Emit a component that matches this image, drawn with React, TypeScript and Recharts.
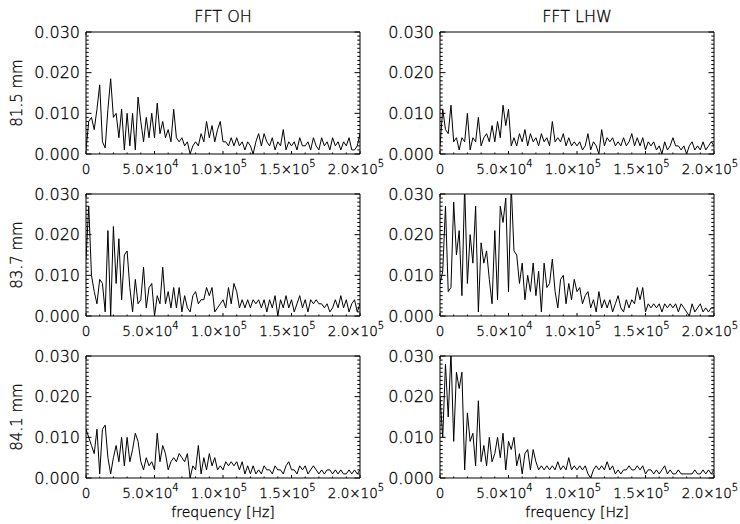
import React from "react";
import { LineChart, Line, XAxis, YAxis } from "recharts";

// frequency grid of the spectra (Hz)
const FREQ_STEP = 2000;
const N_POINTS = 101;

const X_MAJOR = [0, 50000, 100000, 150000, 200000];
const X_MINOR_STEP = 10000;
const Y_MAJOR = [0, 0.01, 0.02, 0.03];
const Y_MINOR_STEP = 0.001;

const COLUMN_TITLES = ["FFT OH", "FFT LHW"];
const ROW_LABELS = ["81.5 mm", "83.7 mm", "84.1 mm"];
const X_TITLE = "frequency [Hz]";

// FFT amplitudes
const OH_815 = [
  0.001, 0.008, 0.009, 0.006, 0.011, 0.017, 0.003, 0.0015, 0.011, 0.0185,
  0.009, 0.010, 0.004, 0.011, 0.001, 0.010, 0.002, 0.010, 0.001, 0.014,
  0.008, 0.003, 0.009, 0.004, 0.010, 0.004, 0.0125, 0.005, 0.008, 0.004,
  0.006, 0.003, 0.011, 0.004, 0.003, 0.004, 0.002, 0.003, 0.000, 0.002,
  0.003, 0.002, 0.005, 0.003, 0.008, 0.004, 0.007, 0.003, 0.006, 0.008,
  0.003, 0.003, 0.002, 0.004, 0.002, 0.004, 0.002, 0.003, 0.001, 0.003,
  0.002, 0.000, 0.003, 0.005, 0.002, 0.005, 0.003, 0.002, 0.004, 0.001,
  0.003, 0.002, 0.006, 0.001, 0.003, 0.002, 0.003, 0.001, 0.004, 0.002,
  0.002, 0.003, 0.001, 0.004, 0.002, 0.001, 0.004, 0.002, 0.003, 0.001,
  0.004, 0.002, 0.003, 0.001, 0.003, 0.002, 0.004, 0.001, 0.001, 0.002,
  0.005,
];

const LHW_815 = [
  0.002, 0.011, 0.006, 0.005, 0.012, 0.003, 0.004, 0.001, 0.004, 0.003,
  0.010, 0.001, 0.004, 0.003, 0.009, 0.002, 0.004, 0.005, 0.003, 0.007,
  0.003, 0.008, 0.004, 0.012, 0.007, 0.011, 0.002, 0.004, 0.002, 0.005,
  0.003, 0.006, 0.002, 0.005, 0.003, 0.004, 0.002, 0.005, 0.003, 0.004,
  0.002, 0.008, 0.003, 0.004, 0.003, 0.005, 0.002, 0.004, 0.002, 0.003,
  0.002, 0.003, 0.001, 0.002, 0.005, 0.001, 0.003, 0.002, 0.000, 0.006,
  0.002, 0.004, 0.003, 0.004, 0.002, 0.003, 0.002, 0.004, 0.002, 0.003,
  0.005, 0.002, 0.004, 0.002, 0.004, 0.001, 0.003, 0.002, 0.003, 0.001,
  0.002, 0.000, 0.003, 0.001, 0.002, 0.004, 0.002, 0.002, 0.001, 0.002,
  0.000, 0.002, 0.003, 0.001, 0.002, 0.001, 0.003, 0.001, 0.002, 0.003,
  0.002,
];

const OH_837 = [
  0.014, 0.027, 0.010, 0.006, 0.003, 0.009, 0.008, 0.001, 0.021, 0.000,
  0.022, 0.008, 0.019, 0.004, 0.015, 0.016, 0.007, 0.001, 0.009, 0.003,
  0.004, 0.012, 0.002, 0.007, 0.008, 0.000, 0.005, 0.003, 0.012, 0.003,
  0.006, 0.002, 0.007, 0.002, 0.007, 0.001, 0.005, 0.002, 0.001, 0.005,
  0.006, 0.003, 0.004, 0.004, 0.007, 0.005, 0.007, 0.001, 0.002, 0.003,
  0.004, 0.002, 0.007, 0.003, 0.008, 0.006, 0.002, 0.004, 0.002, 0.004,
  0.002, 0.004, 0.003, 0.004, 0.002, 0.004, 0.001, 0.004, 0.002, 0.005,
  0.000, 0.004, 0.002, 0.005, 0.002, 0.004, 0.001, 0.003, 0.005, 0.002,
  0.004, 0.001, 0.004, 0.003, 0.004, 0.003, 0.003, 0.002, 0.003, 0.001,
  0.002, 0.004, 0.002, 0.005, 0.002, 0.004, 0.001, 0.003, 0.004, 0.001,
  0.003,
];

const LHW_837 = [
  0.008, 0.011, 0.027, 0.006, 0.007, 0.028, 0.015, 0.021, 0.005, 0.032,
  0.008, 0.020, 0.013, 0.027, 0.001, 0.018, 0.013, 0.016, 0.009, 0.003,
  0.021, 0.004, 0.027, 0.023, 0.029, 0.006, 0.032, 0.016, 0.015, 0.008,
  0.013, 0.004, 0.010, 0.006, 0.013, 0.005, 0.011, 0.001, 0.013, 0.007,
  0.008, 0.014, 0.006, 0.002, 0.009, 0.010, 0.003, 0.008, 0.004, 0.009,
  0.006, 0.007, 0.003, 0.005, 0.006, 0.002, 0.004, 0.001, 0.006, 0.002,
  0.004, 0.002, 0.004, 0.001, 0.003, 0.005, 0.002, 0.001, 0.004, 0.002,
  0.004, 0.003, 0.007, 0.004, 0.007, 0.001, 0.003, 0.002, 0.003, 0.002,
  0.003, 0.001, 0.003, 0.002, 0.003, 0.002, 0.003, 0.001, 0.003, 0.002,
  0.001, 0.000, 0.003, 0.001, 0.002, 0.003, 0.001, 0.002, 0.001, 0.002,
  0.002,
];

const OH_841 = [
  0.012, 0.010, 0.008, 0.006, 0.012, 0.001, 0.012, 0.013, 0.005, 0.001,
  0.005, 0.008, 0.004, 0.010, 0.003, 0.010, 0.004, 0.007, 0.011, 0.009,
  0.004, 0.002, 0.005, 0.003, 0.004, 0.002, 0.011, 0.004, 0.008, 0.006,
  0.002, 0.004, 0.005, 0.004, 0.006, 0.005, 0.004, 0.006, 0.000, 0.003,
  0.002, 0.008, 0.001, 0.005, 0.002, 0.006, 0.003, 0.005, 0.002, 0.003,
  0.002, 0.004, 0.003, 0.004, 0.003, 0.004, 0.002, 0.004, 0.001, 0.003,
  0.001, 0.003, 0.001, 0.002, 0.001, 0.003, 0.002, 0.002, 0.001, 0.003,
  0.002, 0.002, 0.001, 0.003, 0.004, 0.002, 0.002, 0.001, 0.003, 0.002,
  0.003, 0.001, 0.002, 0.003, 0.002, 0.001, 0.002, 0.001, 0.002, 0.002,
  0.001, 0.002, 0.001, 0.002, 0.001, 0.001, 0.002, 0.001, 0.002, 0.001,
  0.002,
];

const LHW_841 = [
  0.020, 0.010, 0.028, 0.015, 0.031, 0.009, 0.026, 0.022, 0.026, 0.002,
  0.016, 0.009, 0.011, 0.003, 0.019, 0.004, 0.008, 0.003, 0.010, 0.004,
  0.006, 0.010, 0.005, 0.011, 0.002, 0.009, 0.007, 0.010, 0.003, 0.006,
  0.001, 0.006, 0.007, 0.002, 0.007, 0.004, 0.002, 0.003, 0.002, 0.003,
  0.002, 0.003, 0.002, 0.004, 0.002, 0.003, 0.002, 0.005, 0.002, 0.003,
  0.002, 0.003, 0.002, 0.003, 0.001, 0.000, 0.002, 0.003, 0.002, 0.003,
  0.002, 0.004, 0.002, 0.003, 0.001, 0.002, 0.001, 0.002, 0.002, 0.003,
  0.002, 0.002, 0.003, 0.002, 0.003, 0.001, 0.002, 0.002, 0.001, 0.002,
  0.001, 0.002, 0.003, 0.001, 0.002, 0.001, 0.001, 0.002, 0.001, 0.001,
  0.001, 0.001, 0.001, 0.002, 0.001, 0.001, 0.002, 0.001, 0.002, 0.001,
  0.002,
];

const SERIES = [
  [OH_815, LHW_815],
  [OH_837, LHW_837],
  [OH_841, LHW_841],
];

const FREQS = Array.from({ length: N_POINTS }, (_, i) => i * FREQ_STEP);
const X_TICKS = Array.from({ length: 21 }, (_, i) => i * X_MINOR_STEP);
const Y_TICKS = Array.from({ length: 31 }, (_, i) => +(i * Y_MINOR_STEP).toFixed(3));

// layout of the plot boxes
const COL_X = [86, 440];
const ROW_Y = [32, 194, 356];
const BOX_W = 274;
const BOX_H = 122;
// outer space around each box; axes take 1px of it on every side
const M = { top: 10, right: 40, bottom: 30, left: 86 };
const AX = 1;

const FONT = "DejaVu Sans";
const FW = 200;
const FS = 15;
const TEXT = "#000";
// thin glyphs get a hairline outline so they read like the plotted vector font
const TXT_STYLE = { stroke: "#000", strokeWidth: 0.3 };

const isXMajor = (v: number) => X_MAJOR.includes(v);
const isYMajor = (v: number) => Y_MAJOR.some((m) => Math.abs(m - v) < 1e-9);

const sciLabel = (v: number) => {
  if (v === 0) return <tspan>0</tspan>;
  const exp = Math.floor(Math.log10(v) + 1e-9);
  const mant = v / Math.pow(10, exp);
  return (
    <>
      <tspan>{mant.toFixed(1)}×10</tspan>
      <tspan dy={-7} fontSize={10}>{exp}</tspan>
    </>
  );
};

const BottomTick = (props: any) => {
  const { x, y, payload } = props;
  const major = isXMajor(payload.value);
  return (
    <g>
      <line x1={x} x2={x} y1={y} y2={y - (major ? 3 : 1.5)} stroke="#000" />
      {major && (
        <text
          x={payload.value === 0 ? x : x - 4}
          y={y + 20}
          textAnchor="middle"
          fontFamily={FONT}
          fontWeight={FW}
          fontSize={13.5}
          fill={TEXT}
          style={TXT_STYLE}
        >
          {sciLabel(payload.value)}
        </text>
      )}
    </g>
  );
};

const TopTick = (props: any) => {
  const { x, y, payload } = props;
  const major = isXMajor(payload.value);
  return <line x1={x} x2={x} y1={y} y2={y + (major ? 3 : 1.5)} stroke="#000" />;
};

const LeftTick = (props: any) => {
  const { x, y, payload } = props;
  const major = isYMajor(payload.value);
  return (
    <g>
      <line x1={x} x2={x + (major ? 5.5 : 2.7)} y1={y} y2={y} stroke="#000" />
      {major && (
        <text
          x={x - 6}
          y={y + 5.5}
          textAnchor="end"
          fontFamily={FONT}
          fontWeight={FW}
          fontSize={16}
          fill={TEXT}
          style={TXT_STYLE}
        >
          {payload.value.toFixed(3)}
        </text>
      )}
    </g>
  );
};

const RightTick = (props: any) => {
  const { x, y, payload } = props;
  const major = isYMajor(payload.value);
  return <line x1={x} x2={x - (major ? 5.5 : 2.7)} y1={y} y2={y} stroke="#000" />;
};

const Panel = ({ values, left, top }: { values: number[]; left: number; top: number }) => {
  const data = FREQS.map((f, i) => ({ f, amp: values[i] }));
  const margin = { top: M.top - AX, right: M.right - AX, bottom: M.bottom - AX, left: M.left - AX };
  return (
    <div style={{ position: "absolute", left: left - M.left, top: top - M.top }}>
      <LineChart width={BOX_W + M.left + M.right} height={BOX_H + M.top + M.bottom} data={data} margin={margin}>
        <XAxis
          xAxisId="b"
          dataKey="f"
          type="number"
          domain={[0, 200000]}
          allowDataOverflow
          ticks={X_TICKS}
          interval={0}
          height={AX}
          tickSize={0}
          tickMargin={0}
          tickLine={false}
          axisLine={{ stroke: "#000" }}
          tick={<BottomTick />}
        />
        <XAxis
          xAxisId="t"
          orientation="top"
          type="number"
          domain={[0, 200000]}
          allowDataOverflow
          ticks={X_TICKS}
          interval={0}
          height={AX}
          tickSize={0}
          tickMargin={0}
          tickLine={false}
          axisLine={{ stroke: "#000" }}
          tick={<TopTick />}
        />
        <YAxis
          yAxisId="l"
          type="number"
          domain={[0, 0.03]}
          allowDataOverflow
          ticks={Y_TICKS}
          interval={0}
          width={AX}
          tickSize={0}
          tickMargin={0}
          tickLine={false}
          axisLine={{ stroke: "#000" }}
          tick={<LeftTick />}
        />
        <YAxis
          yAxisId="r"
          orientation="right"
          type="number"
          domain={[0, 0.03]}
          allowDataOverflow
          ticks={Y_TICKS}
          interval={0}
          width={AX}
          tickSize={0}
          tickMargin={0}
          tickLine={false}
          axisLine={{ stroke: "#000" }}
          tick={<RightTick />}
        />
        <Line
          xAxisId="b"
          yAxisId="l"
          type="linear"
          dataKey="amp"
          stroke="#000"
          strokeWidth={1}
          dot={false}
          isAnimationActive={false}
        />
      </LineChart>
    </div>
  );
};

export default function App() {
  return (
    <div style={{ position: "absolute", left: 0, top: 0, width: 740, height: 524, background: "#fff", overflow: "hidden" }}>
      {SERIES.map((row, r) =>
        row.map((values, c) => (
          <Panel key={`${r}-${c}`} values={values} left={COL_X[c]} top={ROW_Y[r]} />
        ))
      )}
      <svg width={740} height={524} style={{ position: "absolute", left: 0, top: 0, pointerEvents: "none" }}>
        {COLUMN_TITLES.map((t, c) => (
          <text
            key={t}
            x={COL_X[c] + BOX_W / 2}
            y={22}
            textAnchor="middle"
            fontFamily={FONT}
            fontWeight={FW}
            fontSize={16}
            fill={TEXT}
            style={TXT_STYLE}
          >
            {t}
          </text>
        ))}
        {ROW_LABELS.map((t, r) => (
          <text
            key={t}
            transform={`translate(22, ${ROW_Y[r] + BOX_H / 2}) rotate(-90)`}
            textAnchor="middle"
            fontFamily={FONT}
            fontWeight={FW}
            fontSize={FS}
            fill={TEXT}
            style={TXT_STYLE}
          >
            {t}
          </text>
        ))}
        {COL_X.map((x) => (
          <text
            key={x}
            x={x + BOX_W / 2}
            y={517}
            textAnchor="middle"
            fontFamily={FONT}
            fontWeight={FW}
            fontSize={14}
            fill={TEXT}
            style={TXT_STYLE}
          >
            {X_TITLE}
          </text>
        ))}
      </svg>
    </div>
  );
}
